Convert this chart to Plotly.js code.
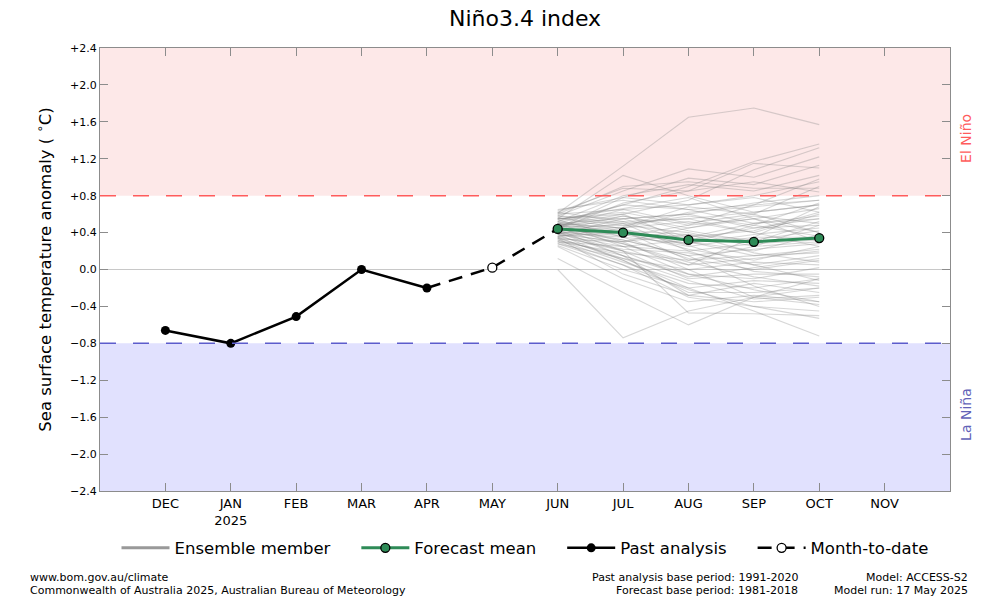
<!DOCTYPE html>
<html>
<head>
<meta charset="utf-8">
<script src="https://cdn.plot.ly/plotly-3.0.1.min.js"></script>
<style>html,body{margin:0;padding:0;background:#fff}#chart{width:1000px;height:600px}</style>
</head>
<body>
<div id="chart"></div>
<script>
// Month positions (0 = DEC 2024 ... 11 = NOV 2025)
const monthIdx = [0,1,2,3,4,5,6,7,8,9,10,11];
const monthLabels = ["DEC","JAN<br>2025","FEB","MAR","APR","MAY","JUN","JUL","AUG","SEP","OCT","NOV"];

const yTickVals = [2.4,2.0,1.6,1.2,0.8,0.4,0.0,-0.4,-0.8,-1.2,-1.6,-2.0,-2.4];
const yTickText = ["+2.4","+2.0","+1.6","+1.2","+0.8","+0.4","0.0","\u22120.4","\u22120.8","\u22121.2","\u22121.6","\u22122.0","\u22122.4"];

// Past analysis (DEC..APR)
const pastX = [0,1,2,3,4];
const pastY = [-0.66,-0.80,-0.51,0.00,-0.20];

// Month-to-date (MAY) and its dashed link APR -> MAY -> JUN
const mtdX = [5];
const mtdY = [0.02];
const linkX = [4,5,6];
const linkY = [-0.20,0.02,0.44];

// Forecast mean (JUN..OCT)
const fcX = [6,7,8,9,10];
const fcMean = [0.44,0.40,0.32,0.30,0.34];

// Ensemble members (JUN..OCT)
const ens01 = [0.61,1.12,1.65,1.75,1.57];
const ens02 = [0.55,1.02,0.80,0.62,0.70];
const ens03 = [0.00,-0.74,-0.45,-0.30,-0.20];
const ens04 = [0.12,-0.25,-0.60,-0.30,-0.10];
const ens05 = [0.35,0.10,-0.20,-0.45,-0.72];
const ens06 = [0.40,0.20,-0.47,-0.48,-0.50];
const ens07 = [0.30,0.05,-0.30,-0.40,-0.53];
const ens08 = [0.50,0.70,0.90,1.17,1.36];
const ens09 = [0.48,0.60,0.75,1.08,1.32];
const ens10 = [0.58,0.85,1.09,1.00,1.22];
const ens11 = [0.45,0.78,0.99,0.92,1.13];
const ens12 = [0.62,0.88,0.85,1.15,1.10];
const ens13 = [0.52,0.80,0.92,0.85,1.02];
const ens14 = [0.47,0.65,0.70,0.80,0.95];
const ens15 = [0.60,0.90,0.95,0.88,0.88];
const ens16 = [0.44,0.72,0.85,0.95,0.84];
const ens17 = [0.38,0.55,0.60,0.72,0.80];
const ens18 = [0.65,0.75,0.65,0.70,0.75];
const ens19 = [0.42,0.50,0.55,0.62,0.70];
const ens20 = [0.55,0.62,0.48,0.55,0.66];
const ens21 = [0.50,0.45,0.52,0.40,0.60];
const ens22 = [0.36,0.40,0.35,0.50,0.58];
const ens23 = [0.46,0.58,0.42,0.30,0.52];
const ens24 = [0.58,0.55,0.60,0.45,0.48];
const ens25 = [0.40,0.35,0.28,0.38,0.45];
const ens26 = [0.52,0.42,0.38,0.32,0.42];
const ens27 = [0.33,0.30,0.45,0.55,0.40];
const ens28 = [0.48,0.52,0.30,0.20,0.38];
const ens29 = [0.44,0.38,0.25,0.35,0.35];
const ens30 = [0.56,0.48,0.40,0.25,0.30];
const ens31 = [0.38,0.25,0.20,0.28,0.32];
const ens32 = [0.42,0.32,0.15,0.22,0.28];
const ens33 = [0.50,0.40,0.22,0.10,0.25];
const ens34 = [0.30,0.18,0.10,0.15,0.22];
const ens35 = [0.45,0.28,0.05,0.12,0.20];
const ens36 = [0.35,0.22,0.18,0.05,0.15];
const ens37 = [0.54,0.35,0.12,0.00,0.10];
const ens38 = [0.28,0.12,0.00,0.08,0.05];
const ens39 = [0.40,0.15,-0.05,-0.10,0.02];
const ens40 = [0.46,0.20,-0.10,-0.05,-0.05];
const ens41 = [0.32,0.08,-0.15,-0.20,-0.10];
const ens42 = [0.26,0.00,-0.20,-0.12,-0.15];
const ens43 = [0.38,0.10,-0.25,-0.25,-0.20];
const ens44 = [0.43,0.15,-0.28,-0.15,-0.25];
const ens45 = [0.34,-0.05,-0.28,-0.35,-0.30];
const ens46 = [0.25,-0.10,-0.35,-0.28,-0.35];
const ens47 = [0.48,0.30,0.00,-0.30,-0.38];
const ens48 = [0.60,0.65,0.50,0.60,0.90];
const ens49 = [0.52,0.70,0.65,0.50,0.55];
const ens50 = [0.64,0.78,0.70,0.78,0.62];
const ens51 = [0.36,0.45,0.62,0.68,0.75];
const ens52 = [0.42,0.58,0.45,0.58,0.50];
const ens53 = [0.50,0.55,0.35,0.42,0.62];
const ens54 = [0.46,0.48,0.58,0.48,0.36];
const ens55 = [0.55,0.60,0.30,0.15,0.18];
const ens56 = [0.40,0.42,0.10,0.25,0.48];
const ens57 = [0.30,0.25,0.32,0.45,0.55];
const ens58 = [0.58,0.50,0.20,-0.02,-0.08];
const ens59 = [0.44,0.36,0.48,0.70,0.98];
const ens60 = [0.36,0.20,0.05,0.35,0.68];
const ens61 = [0.28,0.05,-0.22,-0.40,-0.45];
const ens62 = [0.34,0.12,-0.12,-0.32,-0.28];
const ens63 = [0.50,0.25,-0.05,-0.22,-0.35];
const ens64 = [0.40,0.28,0.08,-0.08,-0.18];
const ens65 = [0.46,0.32,0.15,-0.18,-0.40];
const ens66 = [0.56,0.44,0.26,0.05,-0.12];
const ens67 = [0.32,0.15,-0.08,0.02,0.12];
const ens68 = [0.62,0.52,0.55,0.40,0.25];
const ens69 = [0.42,0.46,0.68,0.60,0.40];
const ens70 = [0.48,0.40,0.28,0.48,0.72];
const ens71 = [0.38,0.30,0.38,0.18,0.08];
const ens72 = [0.54,0.66,0.78,0.55,0.30];

const ensemble = [ens01,ens02,ens03,ens04,ens05,ens06,ens07,ens08,ens09,ens10,
  ens11,ens12,ens13,ens14,ens15,ens16,ens17,ens18,ens19,ens20,
  ens21,ens22,ens23,ens24,ens25,ens26,ens27,ens28,ens29,ens30,
  ens31,ens32,ens33,ens34,ens35,ens36,ens37,ens38,ens39,ens40,
  ens41,ens42,ens43,ens44,ens45,ens46,ens47,ens48,ens49,ens50,
  ens51,ens52,ens53,ens54,ens55,ens56,ens57,ens58,ens59,ens60,
  ens61,ens62,ens63,ens64,ens65,ens66,ens67,ens68,ens69,ens70,
  ens71,ens72];

const FONT = "DejaVu Sans, sans-serif";
const NB = "\u00a0\u00a0\u00a0\u00a0";
const traces = [];

ensemble.forEach(m => {
  traces.push({x: fcX, y: m, type: "scatter", mode: "lines",
    line: {color: "rgba(130,130,130,0.32)", width: 1.1},
    showlegend: false, hoverinfo: "skip"});
});

// legend entry for ensemble members
traces.push({x: [null], y: [null], type: "scatter", mode: "lines", name: "Ensemble member" + NB,
  line: {color: "#999999", width: 3}});

traces.push({x: linkX, y: linkY, type: "scatter", mode: "lines", showlegend: false,
  line: {color: "#000", width: 2.5, dash: "14px,9px"}});

traces.push({x: fcX, y: fcMean, type: "scatter", mode: "lines+markers", name: "Forecast mean" + NB,
  line: {color: "#2e8b57", width: 3},
  marker: {color: "#2e8b57", size: 9, line: {color: "#000", width: 1.3}}});

traces.push({x: pastX, y: pastY, type: "scatter", mode: "lines+markers", name: "Past analysis" + NB,
  line: {color: "#000", width: 2.5},
  marker: {color: "#000", size: 9}});

traces.push({x: mtdX, y: mtdY, type: "scatter", mode: "lines+markers", name: "Month-to-date",
  line: {color: "#000", width: 2.5, dash: "14px,9px"},
  marker: {color: "#fff", size: 9, line: {color: "#000", width: 1.3}}});

const layout = {
  width: 1000, height: 600,
  margin: {l: 100, r: 50, t: 48, b: 109},
  paper_bgcolor: "#fff", plot_bgcolor: "#fff",
  font: {family: FONT, color: "#000"},
  title: {text: "Niño3.4 index", font: {family: FONT, size: 22, color: "#000"},
    x: 0.525, xanchor: "center", y: 0.97, yanchor: "middle"},
  xaxis: {range: [-1, 12], tickvals: monthIdx, ticktext: monthLabels,
    showgrid: false, zeroline: false, showline: true, linecolor: "#8c8c8c", linewidth: 1,
    mirror: "ticks", ticks: "inside", ticklen: 8, tickcolor: "#8c8c8c",
    tickfont: {family: FONT, size: 13, color: "#000"}, fixedrange: true},
  yaxis: {range: [-2.4, 2.4], tickvals: yTickVals, ticktext: yTickText,
    showgrid: false, zeroline: false, showline: true, linecolor: "#8c8c8c", linewidth: 1,
    mirror: "ticks", ticks: "inside", ticklen: 8, tickcolor: "#8c8c8c",
    tickfont: {family: FONT, size: 11, color: "#000"},
    title: {text: "Sea surface temperature anomaly ( <sup>\u2218</sup>C)", font: {family: FONT, size: 16.5, color: "#000"}, standoff: 14},
    automargin: false, fixedrange: true},
  shapes: [
    {type: "rect", xref: "paper", yref: "y", x0: 0, x1: 1, y0: 0.8, y1: 2.4,
      fillcolor: "#fde8e8", line: {width: 0}, layer: "below"},
    {type: "rect", xref: "paper", yref: "y", x0: 0, x1: 1, y0: -2.4, y1: -0.8,
      fillcolor: "#e1e1fe", line: {width: 0}, layer: "below"},
    {type: "line", xref: "paper", yref: "y", x0: 0, x1: 1, y0: 0, y1: 0,
      line: {color: "#c8c8c8", width: 1.2}, layer: "below"},
    {type: "line", xref: "paper", yref: "y", x0: 0, x1: 1, y0: 0.8, y1: 0.8,
      line: {color: "#ff5c5c", width: 1.5, dash: "16px,17px"}, layer: "above"},
    {type: "line", xref: "paper", yref: "y", x0: 0, x1: 1, y0: -0.8, y1: -0.8,
      line: {color: "#5c5ccc", width: 1.5, dash: "16px,17px"}, layer: "above"}
  ],
  legend: {orientation: "h", x: 0.5, xanchor: "center", y: -0.129, yanchor: "middle",
    font: {family: FONT, size: 16.5, color: "#000"}, bgcolor: "rgba(0,0,0,0)",
    itemwidth: 48, tracegroupgap: 0},
  annotations: [
    {text: "El Niño", xref: "paper", yref: "paper", x: 1.0188, y: 0.797, textangle: -90,
      showarrow: false, font: {family: FONT, size: 14, color: "#ff5c5c"}, xanchor: "center", yanchor: "middle"},
    {text: "La Niña", xref: "paper", yref: "paper", x: 1.0188, y: 0.174, textangle: -90,
      showarrow: false, font: {family: FONT, size: 14, color: "#6262b8"}, xanchor: "center", yanchor: "middle"},
    {text: "www.bom.gov.au/climate", xref: "paper", yref: "paper", x: -0.0847, y: -0.196,
      xanchor: "left", yanchor: "middle", showarrow: false, font: {family: FONT, size: 11}},
    {text: "Commonwealth of Australia 2025, Australian Bureau of Meteorology", xref: "paper", yref: "paper", x: -0.0847, y: -0.2235,
      xanchor: "left", yanchor: "middle", showarrow: false, font: {family: FONT, size: 11}},
    {text: "Past analysis base period: 1991-2020", xref: "paper", yref: "paper", x: 0.8235, y: -0.196,
      xanchor: "right", yanchor: "middle", showarrow: false, font: {family: FONT, size: 11}},
    {text: "Forecast base period: 1981-2018", xref: "paper", yref: "paper", x: 0.8235, y: -0.2235,
      xanchor: "right", yanchor: "middle", showarrow: false, font: {family: FONT, size: 11}},
    {text: "Model: ACCESS-S2", xref: "paper", yref: "paper", x: 1.0235, y: -0.196,
      xanchor: "right", yanchor: "middle", showarrow: false, font: {family: FONT, size: 11}},
    {text: "Model run: 17 May 2025", xref: "paper", yref: "paper", x: 1.0235, y: -0.2235,
      xanchor: "right", yanchor: "middle", showarrow: false, font: {family: FONT, size: 11}}
  ]
};

Plotly.newPlot("chart", traces, layout, {displayModeBar: false, staticPlot: true});
</script>
</body>
</html>
